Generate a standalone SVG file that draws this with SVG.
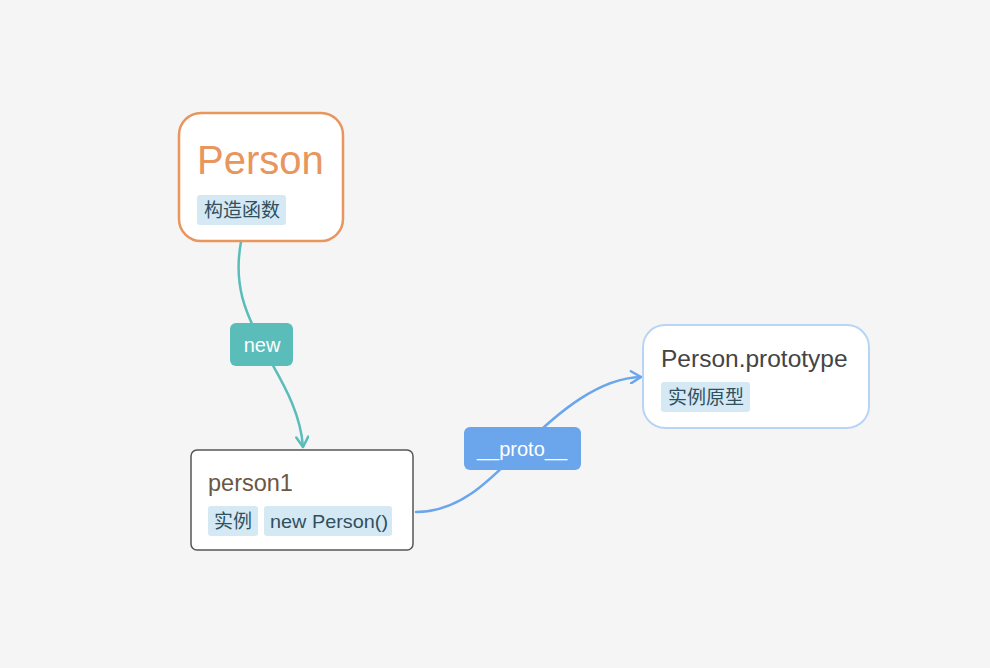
<svg xmlns="http://www.w3.org/2000/svg" width="990" height="668" viewBox="0 0 990 668">
<defs>
<style>
text{font-family:"Liberation Sans","Noto Sans CJK SC",sans-serif;}
.tag{fill:#d5e9f5;}
.tagt{font-size:19px;fill:#30505e;}
.lbl{font-size:20px;fill:#ffffff;text-anchor:middle;}
.conn{fill:none;stroke-width:2.5;stroke-linecap:round;}
</style>
<marker id="ah-teal" viewBox="0 0 14 14" refX="12" refY="7" markerWidth="14" markerHeight="14" markerUnits="userSpaceOnUse" orient="auto">
<path d="M2,1 L12,7 L2,13" fill="none" stroke="#5bbdb9" stroke-width="2.5" stroke-linecap="round" stroke-linejoin="round"/>
</marker>
<marker id="ah-blue" viewBox="0 0 14 14" refX="12" refY="7" markerWidth="14" markerHeight="14" markerUnits="userSpaceOnUse" orient="auto">
<path d="M2,1 L12,7 L2,13" fill="none" stroke="#6ba6ec" stroke-width="2.5" stroke-linecap="round" stroke-linejoin="round"/>
</marker>
</defs>
<rect width="990" height="668" fill="#f5f5f5"/>
<g id="connectors">
<path class="conn" stroke="#5bbdb9" d="M241,242 C232,290 250,320 262,345 C275,372 300,405 303,447" marker-end="url(#ah-teal)"/>
<g id="label-new">
<rect x="230" y="323" width="63" height="43" rx="6" fill="#5bbdb9"/>
<text class="lbl" x="262" y="352" font-size="21">new</text>
</g>
<path class="conn" stroke="#6ba6ec" d="M416,512 C460,512 490,480 522,448 C560,410 600,378 641,377" marker-end="url(#ah-blue)"/>
<g id="label-proto">
<rect x="464" y="427" width="117" height="43" rx="6" fill="#6ba6ec"/>
<text class="lbl" x="522" y="456">__proto__</text>
</g>
</g>
<g id="node-person">
<rect x="179" y="113" width="164" height="128" rx="22" fill="#ffffff" stroke="#e8955e" stroke-width="2.5"/>
<text x="197" y="174" font-size="40" fill="#e8955e">Person</text>
<rect class="tag" x="197" y="195" width="89" height="30" rx="3"/>
<text class="tagt" x="204" y="217">构造函数</text>
</g>
<g id="node-person1">
<rect x="191" y="450" width="222" height="100" rx="6" fill="#ffffff" stroke="#555555" stroke-width="1.5"/>
<text x="208" y="491" font-size="23.5" fill="#6b5744">person1</text>
<rect class="tag" x="208" y="506" width="50" height="30" rx="3"/>
<text class="tagt" x="214" y="528">实例</text>
<rect class="tag" x="264" y="506" width="128" height="30" rx="3"/>
<text class="tagt" x="270" y="528" textLength="118" lengthAdjust="spacingAndGlyphs">new Person()</text>
</g>
<g id="node-prototype">
<rect x="643" y="325" width="226" height="103" rx="22" fill="#ffffff" stroke="#b9d5f5" stroke-width="2"/>
<text x="661" y="367" font-size="24.5" fill="#444444">Person.prototype</text>
<rect class="tag" x="661" y="382" width="89" height="30" rx="3"/>
<text class="tagt" x="668" y="404">实例原型</text>
</g>
</svg>
